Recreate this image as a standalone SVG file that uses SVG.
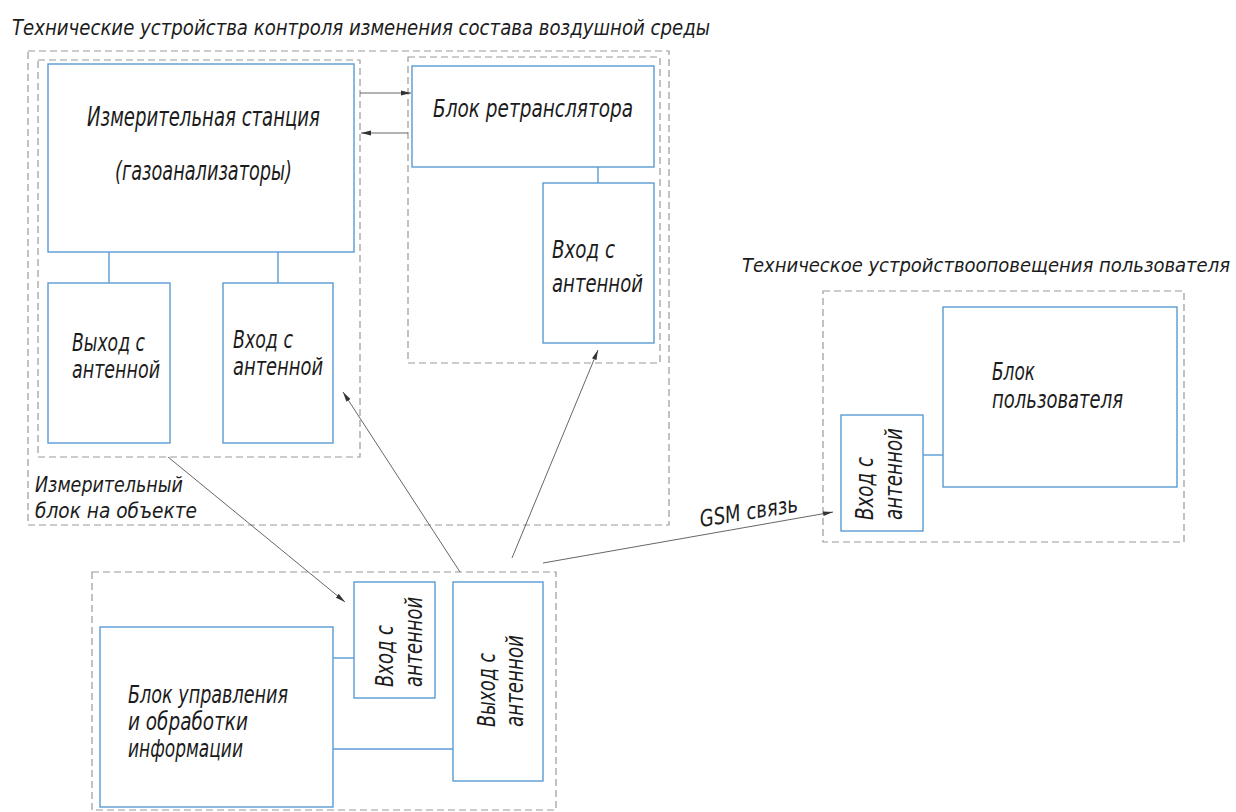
<svg xmlns="http://www.w3.org/2000/svg" width="1236" height="812" viewBox="0 0 1236 812">
<style>
.lbl{font-family:"DejaVu Sans Condensed","DejaVu Sans","Liberation Sans",sans-serif;font-style:italic;fill:#1c1c1c}
.box{fill:#fff;stroke:#5b9bd5;stroke-width:1.4}
.dash{fill:none;stroke:#9a9a9a;stroke-width:1.2;stroke-dasharray:7 4}
.wire{stroke:#5b9bd5;stroke-width:1.4;fill:none}
.arrow{stroke:#555;stroke-width:0.9;fill:none;marker-end:url(#ah)}
</style>
<defs>
<marker id="ah" viewBox="0 0 10 6" refX="10" refY="3" markerWidth="10" markerHeight="6" markerUnits="userSpaceOnUse" orient="auto">
<path d="M0,0.6 L10,3 L0,5.4 Z" fill="#333"/>
</marker>
</defs>
<rect width="1236" height="812" fill="#fff"/>

<g id="group-outer">
<rect class="dash" x="28" y="51" width="641" height="474"/>
<text class="lbl" x="12" y="35" font-size="22" textLength="698" lengthAdjust="spacingAndGlyphs">Технические устройства контроля изменения состава воздушной среды</text>
</g>
<g id="group-measure">
<rect class="dash" x="38" y="60" width="322" height="397"/>
<text class="lbl" x="35" y="492" font-size="22" textLength="148" lengthAdjust="spacingAndGlyphs">Измерительный</text>
<text class="lbl" x="35" y="518" font-size="22" textLength="162" lengthAdjust="spacingAndGlyphs">блок на объекте</text>
</g>
<g id="group-repeater">
<rect class="dash" x="408" y="57" width="252" height="306"/>
</g>
<g id="group-control">
<rect class="dash" x="92" y="572" width="464" height="238"/>
</g>
<g id="group-user">
<rect class="dash" x="823" y="291" width="361" height="251"/>
<text class="lbl" x="742" y="272" font-size="20" textLength="488" lengthAdjust="spacingAndGlyphs">Техническое устройствооповещения пользователя</text>
</g>

<g id="connectors">
<line class="wire" x1="109" y1="252" x2="109" y2="283"/>
<line class="wire" x1="278" y1="252" x2="278" y2="283"/>
<line class="wire" x1="598" y1="167" x2="598" y2="183"/>
<line class="wire" x1="333" y1="658" x2="354" y2="658"/>
<line class="wire" x1="333" y1="749" x2="453" y2="749"/>
<line class="wire" x1="923" y1="455" x2="943" y2="455"/>
<line class="arrow" x1="360" y1="93" x2="411" y2="93"/>
<line class="arrow" x1="408" y1="133" x2="361" y2="133"/>
<line class="arrow" x1="168" y1="457" x2="345" y2="602"/>
<line class="arrow" x1="460" y1="572" x2="343" y2="392"/>
<line class="arrow" x1="512" y1="558" x2="598" y2="350"/>
<line class="arrow" x1="543" y1="563" x2="833" y2="512"/>
<text class="lbl" font-size="23" transform="translate(701,527) rotate(-9)" textLength="99" lengthAdjust="spacingAndGlyphs">GSM связь</text>
</g>

<g id="station">
<rect class="box" x="48" y="64" width="306" height="188"/>
<text class="lbl" x="87" y="126" font-size="26" textLength="233" lengthAdjust="spacingAndGlyphs">Измерительная станция</text>
<text class="lbl" x="115" y="180" font-size="26" textLength="177" lengthAdjust="spacingAndGlyphs">(газоанализаторы)</text>
</g>
<g id="meas-out">
<rect class="box" x="48" y="283" width="122" height="160"/>
<text class="lbl" x="72" y="351" font-size="25" textLength="73" lengthAdjust="spacingAndGlyphs">Выход с</text>
<text class="lbl" x="72" y="378" font-size="25" textLength="88" lengthAdjust="spacingAndGlyphs">антенной</text>
</g>
<g id="meas-in">
<rect class="box" x="223" y="283" width="110" height="160"/>
<text class="lbl" x="233" y="348" font-size="25" textLength="60" lengthAdjust="spacingAndGlyphs">Вход с</text>
<text class="lbl" x="233" y="375" font-size="25" textLength="90" lengthAdjust="spacingAndGlyphs">антенной</text>
</g>
<g id="repeater">
<rect class="box" x="412" y="66" width="242" height="101"/>
<text class="lbl" x="433" y="117" font-size="25" textLength="200" lengthAdjust="spacingAndGlyphs">Блок ретранслятора</text>
</g>
<g id="repeater-in">
<rect class="box" x="543" y="183" width="111" height="160"/>
<text class="lbl" x="552" y="258" font-size="25" textLength="63" lengthAdjust="spacingAndGlyphs">Вход с</text>
<text class="lbl" x="552" y="292" font-size="25" textLength="91" lengthAdjust="spacingAndGlyphs">антенной</text>
</g>
<g id="control">
<rect class="box" x="100" y="627" width="233" height="180"/>
<text class="lbl" x="128" y="703" font-size="25" textLength="160" lengthAdjust="spacingAndGlyphs">Блок управления</text>
<text class="lbl" x="128" y="730" font-size="25" textLength="120" lengthAdjust="spacingAndGlyphs">и обработки</text>
<text class="lbl" x="128" y="757" font-size="25" textLength="115" lengthAdjust="spacingAndGlyphs">информации</text>
</g>
<g id="control-in">
<rect class="box" x="354" y="582" width="81" height="116"/>
<text class="lbl" font-size="25" transform="translate(393,687) rotate(-90)" textLength="62" lengthAdjust="spacingAndGlyphs">Вход с</text>
<text class="lbl" font-size="25" transform="translate(422,687) rotate(-90)" textLength="90" lengthAdjust="spacingAndGlyphs">антенной</text>
</g>
<g id="control-out">
<rect class="box" x="453" y="582" width="90" height="199"/>
<text class="lbl" font-size="25" transform="translate(495,727) rotate(-90)" textLength="74" lengthAdjust="spacingAndGlyphs">Выход с</text>
<text class="lbl" font-size="25" transform="translate(523,727) rotate(-90)" textLength="92" lengthAdjust="spacingAndGlyphs">антенной</text>
</g>
<g id="user-in">
<rect class="box" x="841" y="415" width="82" height="116"/>
<text class="lbl" font-size="25" transform="translate(873,520) rotate(-90)" textLength="63" lengthAdjust="spacingAndGlyphs">Вход с</text>
<text class="lbl" font-size="25" transform="translate(902,520) rotate(-90)" textLength="92" lengthAdjust="spacingAndGlyphs">антенной</text>
</g>
<g id="user-block">
<rect class="box" x="943" y="307" width="234" height="180"/>
<text class="lbl" x="992" y="380" font-size="25" textLength="43" lengthAdjust="spacingAndGlyphs">Блок</text>
<text class="lbl" x="992" y="408" font-size="25" textLength="131" lengthAdjust="spacingAndGlyphs">пользователя</text>
</g>
</svg>
